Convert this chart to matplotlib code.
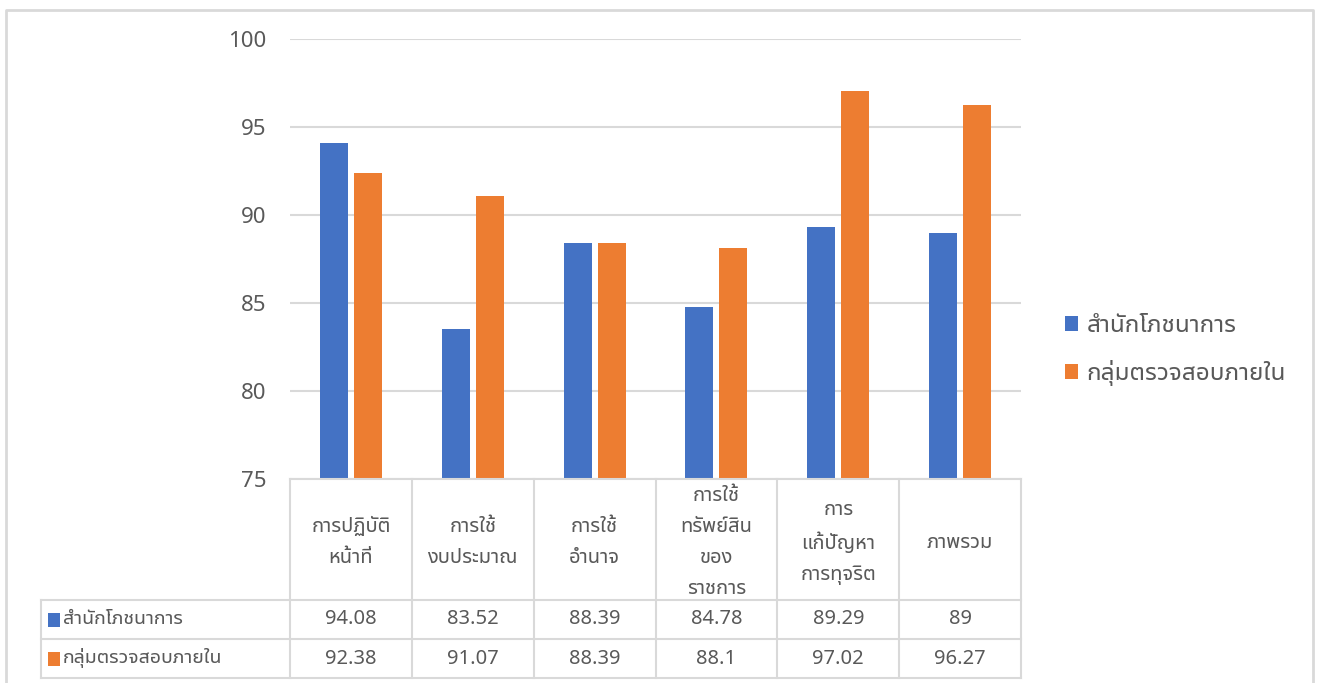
import matplotlib
matplotlib.use("Agg")
import matplotlib.pyplot as plt
from matplotlib.lines import Line2D
from matplotlib.patches import Rectangle
import numpy as np

# data
categories = ["การปฏิบัติ\nหน้าที่", "การใช้\nงบประมาณ", "การใช้\nอำนาจ",
              "การใช้\nทรัพย์สิน\nของ\nราชการ", "การ\nแก้ปัญหา\nการทุจริต", "ภาพรวม"]
series_names = ["สำนักโภชนาการ", "กลุ่มตรวจสอบภายใน"]
office_vals = [94.08, 83.52, 88.39, 84.78, 89.29, 89]
audit_vals = [92.38, 91.07, 88.39, 88.1, 97.02, 96.27]
y_ticks = [75, 80, 85, 90, 95, 100]

colors = ["#4472C4", "#ED7D31"]
grid_c = "#D9D9D9"
text_c = "#595959"
plt.rcParams["font.family"] = ["Noto Sans Thai UI", "Noto Sans Thai", "DejaVu Sans"]

W, H = 1321, 683
fig = plt.figure(figsize=(W / 100, H / 100), dpi=100)

def fx(px):
    return px / W

def fy(py):
    return 1 - py / H

# plot area in pixels
left, right, top, bottom = 290, 1021, 39, 479
ax = fig.add_axes([fx(left), fy(bottom), fx(right - left), (bottom - top) / H])

x = np.arange(len(categories))
bw = 0.23
off = 0.14
ax.bar(x - off, office_vals, bw, color=colors[0], label=series_names[0], zorder=3)
ax.bar(x + off, audit_vals, bw, color=colors[1], label=series_names[1], zorder=3)

ax.set_xlim(-0.5, len(categories) - 0.5)
ax.set_ylim(75, 100)
ax.set_yticks(y_ticks)
ax.set_yticklabels([str(t) for t in y_ticks], fontsize=16, color=text_c)
ax.tick_params(axis="y", length=0, pad=17)
ax.set_xticks([])
ax.grid(axis="y", color=grid_c, linewidth=1.5, zorder=0)
for s in ax.spines.values():
    s.set_visible(False)

# data table under the plot
col_w = (right - left) / len(categories)
col_x = [left + i * col_w for i in range(len(categories) + 1)]
lab_left = 41
row_y = [479, 600, 639, 678]
lc = grid_c
lw = 1.5

def hline(x0, x1, y):
    fig.add_artist(Line2D([fx(x0), fx(x1)], [fy(y), fy(y)], color=lc, lw=lw))

def vline(xp, y0, y1):
    fig.add_artist(Line2D([fx(xp), fx(xp)], [fy(y0), fy(y1)], color=lc, lw=lw))

hline(left, right, row_y[0])
for yy in row_y[1:]:
    hline(lab_left, right, yy)
for xp in col_x:
    vline(xp, row_y[0], row_y[3])
vline(lab_left, row_y[1], row_y[3])

for i, cat in enumerate(categories):
    cx = (col_x[i] + col_x[i + 1]) / 2
    fig.text(fx(cx), fy((row_y[0] + row_y[1]) / 2 + 3), cat, ha="center", va="center",
             fontsize=14.5, color=text_c, linespacing=1.72, multialignment="center")

for r, vals in enumerate([office_vals, audit_vals]):
    cy = (row_y[r + 1] + row_y[r + 2]) / 2
    fig.add_artist(Rectangle((fx(48), fy(cy + 7)), 12 / W, 14 / H,
                             facecolor=colors[r], edgecolor="none"))
    fig.text(fx(63), fy(cy), series_names[r], ha="left", va="center",
             fontsize=14, color=text_c)
    for i, v in enumerate(vals):
        cx = (col_x[i] + col_x[i + 1]) / 2
        fig.text(fx(cx), fy(cy), f"{v:g}", ha="center", va="center",
                 fontsize=14.5, color=text_c)

# legend at right
fig.legend(loc="center left", bbox_to_anchor=(fx(1043), fy(350)), frameon=False,
           fontsize=17.5, labelcolor=text_c, handlelength=0.55, handleheight=0.55,
           handletextpad=0.33, labelspacing=0.9)

# outer chart border
fig.add_artist(Line2D([fx(6), fx(6), fx(1313), fx(1313)], [0, fy(10), fy(10), 0],
                      color=grid_c, lw=2))

fig.savefig("out.png", dpi=100)
